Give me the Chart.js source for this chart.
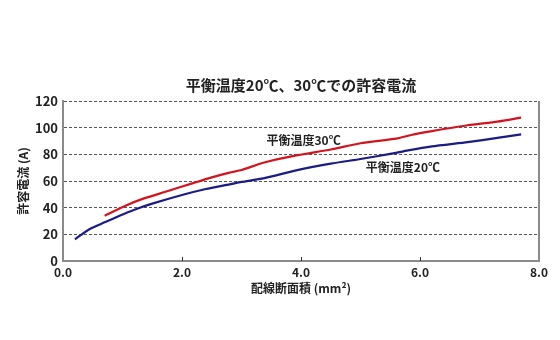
<!DOCTYPE html>
<html lang="ja">
<head>
<meta charset="utf-8">
<title>平衡温度20℃、30℃での許容電流</title>
<script src="https://cdn.jsdelivr.net/npm/chart.js@4/dist/chart.umd.min.js"></script>
<style>
  html, body { margin: 0; padding: 0; background: #fff; }
  canvas { display: block; }
</style>
</head>
<body>
<canvas id="ampChart" width="560" height="340"></canvas>
<script>
// 配線断面積 (mm²) と許容電流 (A)
const area20    = [0.2, 0.45, 0.7, 0.95, 1.2, 1.5, 2.0, 2.4, 2.8, 3.0, 3.4, 3.9, 4.5, 5.0, 5.5, 5.8, 6.2, 6.8, 7.3, 7.7];
const current20 = [16.3, 24, 29, 34, 38.5, 43, 49.5, 54, 57.5, 59.3, 62.3, 67.8, 73, 76.5, 80.3, 83, 86, 89.2, 92.3, 95];

const area30    = [0.7, 1.05, 1.35, 1.75, 2.2, 2.5, 2.8, 3.0, 3.35, 3.9, 4.5, 5.0, 5.6, 5.85, 6.2, 6.8, 7.3, 7.7];
const current30 = [34, 41.5, 46.8, 52.3, 58.6, 62.7, 66.3, 68.2, 73.5, 79, 83.6, 88.3, 91.8, 94.5, 97.4, 101.8, 104.5, 107.5];

const xTicks = [0, 2, 4, 6, 8];
const yTicks = [0, 20, 40, 60, 80, 100, 120];

// curve labels: text, anchor (x, y in data units)
const curveLabels = [
  { text: '平衡温度30℃', x: 3.42, y: 90.5 },
  { text: '平衡温度20℃', x: 5.09, y: 69.8 }
];

const FONT = "'Noto Sans CJK JP', 'Noto Sans', sans-serif";
const WEIGHT = 'bold';
const colors = {
  red:   '#d2141e',
  blue:  '#1b1c86',
  axis:  '#8a8a8a',
  grid:  '#555555',
  text:  '#222222'
};

const toPoints = (xs, ys) => xs.map((x, i) => ({ x: x, y: ys[i] }));

// small tick marks on the x axis, pointing into the plot
const innerTicks = {
  id: 'innerTicks',
  afterDatasetsDraw(chart) {
    const { ctx, scales: { x, y } } = chart;
    const base = y.getPixelForValue(0);
    ctx.save();
    ctx.strokeStyle = '#333';
    ctx.lineWidth = 1;
    xTicks.slice(1, -1).forEach(v => {
      const px = Math.round(x.getPixelForValue(v)) + 0.5;
      ctx.beginPath();
      ctx.moveTo(px, base);
      ctx.lineTo(px, base - 4);
      ctx.stroke();
    });
    ctx.restore();
  }
};

// labels written next to each curve
const curveText = {
  id: 'curveText',
  afterDatasetsDraw(chart) {
    const { ctx, scales: { x, y } } = chart;
    ctx.save();
    ctx.font = WEIGHT + ' 12px ' + FONT;
    ctx.fillStyle = colors.text;
    ctx.textAlign = 'left';
    ctx.textBaseline = 'middle';
    curveLabels.forEach(l => {
      ctx.fillText(l.text, x.getPixelForValue(l.x), y.getPixelForValue(l.y));
    });
    ctx.restore();
  }
};

new Chart(document.getElementById('ampChart'), {
  type: 'scatter',
  data: {
    datasets: [
      {
        label: '平衡温度30℃',
        data: toPoints(area30, current30),
        showLine: true,
        borderColor: colors.red,
        borderWidth: 2.2,
        pointRadius: 0,
        tension: 0.2
      },
      {
        label: '平衡温度20℃',
        data: toPoints(area20, current20),
        showLine: true,
        borderColor: colors.blue,
        borderWidth: 2.2,
        pointRadius: 0,
        tension: 0.2
      }
    ]
  },
  options: {
    responsive: false,
    animation: false,
    layout: { padding: { left: 0, right: 21, top: 0, bottom: 44 } },
    plugins: {
      legend: { display: false },
      tooltip: { enabled: false },
      title: {
        display: true,
        fullSize: false,
        text: '平衡温度20℃、30℃での許容電流',
        color: colors.text,
        font: { family: FONT, size: 15, weight: WEIGHT },
        padding: { top: 76, bottom: 7 }
      }
    },
    scales: {
      x: {
        type: 'linear',
        min: 0,
        max: 8,
        afterBuildTicks: s => { s.ticks = xTicks.map(v => ({ value: v })); },
        afterFit: s => { s.height = 35; },
        border: { display: true, color: colors.axis, width: 2 },
        grid: {
          drawTicks: false,
          lineWidth: 2,
          color: c => (c.tick && c.tick.value === 8 ? colors.axis : 'transparent')
        },
        ticks: {
          padding: 4,
          color: colors.text,
          font: { family: FONT, size: 12, weight: WEIGHT },
          callback: v => v.toFixed(1)
        },
        title: {
          display: true,
          text: '配線断面積 (mm²)',
          color: colors.text,
          font: { family: FONT, size: 12, weight: WEIGHT },
          padding: { top: 0, bottom: 0 }
        }
      },
      y: {
        min: 0,
        max: 120,
        afterBuildTicks: s => { s.ticks = yTicks.map(v => ({ value: v })); },
        afterFit: s => { s.width = 63; },
        // border.dash sets the dash of the horizontal grid lines
        border: { display: true, color: colors.axis, width: 2, dash: [3, 2] },
        grid: {
          drawTicks: false,
          lineWidth: 1,
          color: c => (c.tick && c.tick.value === 0 ? 'transparent' : colors.grid)
        },
        ticks: {
          padding: 5,
          color: colors.text,
          font: { family: FONT, size: 13, weight: WEIGHT }
        },
        title: {
          display: true,
          text: '許容電流 (A)',
          color: colors.text,
          font: { family: FONT, size: 12, weight: WEIGHT },
          padding: { top: 16, bottom: 0 }
        }
      }
    }
  },
  plugins: [innerTicks, curveText]
});
</script>
</body>
</html>
